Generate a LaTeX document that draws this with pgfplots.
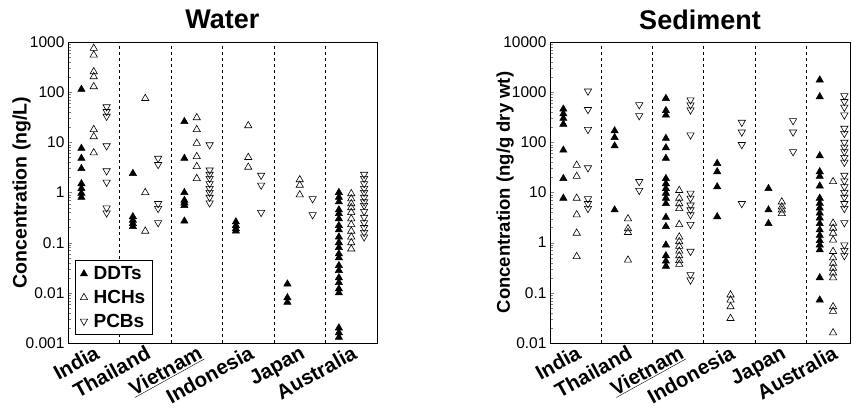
\documentclass[border=0pt]{standalone}
\usepackage{fontspec}
\setmainfont{Liberation Sans}
\usepackage{pgfplots}
\usepackage{pgfplotstable}
\pgfplotsset{compat=1.18}

% water (ng/L)
\pgfplotstableread{
c v
0 114
0 7.6
0 4.8
0 3.0
0 1.5
0 1.2
0 0.97
0 0.8
1 2.4
1 0.33
1 0.28
1 0.24
1 0.21
2 26
2 4.8
2 1.0
2 0.7
2 0.62
2 0.55
2 0.27
3 0.26
3 0.22
3 0.19
3 0.17
4 0.015
4 0.008
4 0.0065
5 1.0
5 0.8
5 0.65
5 0.45
5 0.38
5 0.3
5 0.22
5 0.18
5 0.13
5 0.1
5 0.08
5 0.06
5 0.05
5 0.035
5 0.028
5 0.02
5 0.016
5 0.012
5 0.01
5 0.002
5 0.0016
5 0.0013
}\wddt
\pgfplotstableread{
c v
0 750
0 550
0 256
0 204
0 129
0 18
0 13
0 6.2
1 75
1 1.0
1 0.17
2 31
2 18
2 9.6
2 5.2
2 3.3
2 1.9
3 21.5
3 5.0
3 3.2
4 1.8
4 1.4
4 0.9
5 0.95
5 0.75
5 0.6
5 0.5
5 0.4
5 0.3
5 0.23
5 0.17
5 0.13
5 0.1
5 0.075
}\whch
\pgfplotstableread{
c v
0 51
0 41
0 33
0 8.5
0 2.7
0 1.6
0 0.49
0 0.39
1 4.8
1 3.6
1 0.6
1 0.48
1 0.25
2 8.9
2 2.8
2 2.3
2 1.9
2 1.5
2 1.2
2 1.0
2 0.8
2 0.62
3 2.2
3 1.4
3 0.4
4 0.75
4 0.36
5 2.3
5 1.9
5 1.5
5 1.2
5 1.0
5 0.8
5 0.65
5 0.55
5 0.42
5 0.32
5 0.25
5 0.2
5 0.16
5 0.13
}\wpcb

% sediment (ng/g dry wt)
\pgfplotstableread{
c v
0 460
0 370
0 300
0 230
0 70
0 19
0 7.7
1 170
1 125
1 85
1 4.5
2 750
2 430
2 350
2 120
2 78
2 48
2 19
2 15
2 12
2 9.7
2 7.7
2 6
2 3.2
2 2.1
2 0.9
2 0.55
2 0.43
2 0.34
3 38
3 26
3 13
3 3.3
4 12
4 4.5
4 2.4
5 1750
5 810
5 54
5 26
5 21
5 13.5
5 7.7
5 6.1
5 4.9
5 3.9
5 3.1
5 2.4
5 1.8
5 1.4
5 1.1
5 0.9
5 0.72
5 0.2
5 0.072
}\sedddt
\pgfplotstableread{
c v
0 35
0 21
0 7.7
0 3.6
0 1.55
0 0.53
1 3.0
1 1.9
1 1.6
1 0.45
2 11
2 7.7
2 6
2 4.8
2 2.3
2 1.3
2 1.05
2 0.85
2 0.68
2 0.55
2 0.44
2 0.37
3 0.091
3 0.072
3 0.053
3 0.031
4 6.5
4 5.2
4 4.5
4 3.8
5 16.5
5 2.45
5 1.95
5 1.55
5 1.13
5 0.67
5 0.5
5 0.39
5 0.31
5 0.25
5 0.2
5 0.053
5 0.043
5 0.016
}\sedhch
\pgfplotstableread{
c v
0 1050
0 450
0 180
0 31
0 7.5
0 6
0 4.8
1 560
1 340
1 16.5
1 11
2 700
2 556
2 442
2 140
2 9.7
2 7.7
2 5.6
2 4.5
2 3.6
2 2.3
2 0.67
2 0.23
2 0.18
3 250
3 160
3 90
3 6
4 270
4 160
4 65
5 850
5 650
5 500
5 350
5 190
5 150
5 100
5 80
5 65
5 50
5 40
5 22
5 17
5 13
5 10
5 8
5 6
5 4.8
5 2.5
5 0.9
5 0.7
5 0.55
}\sedpcb

\pgfplotsset{
  /pgfplots/chartpanel/.style={
    scale only axis, height=301pt, anchor=south west,
    xmin=-0.5,
    log ticks with fixed point,
    yticklabel style={font=\fontsize{15.5}{15.5}\selectfont,
      /pgf/number format/1000 sep={},
      /pgf/number format/assume math mode=true},
    xtick={0,...,5},
    xticklabels={India,Thailand,\underline{Vietnam},Indonesia,Japan,Australia},
    xtick style={draw=none},
    xticklabel style={rotate=29, anchor=north east, inner sep=1pt,
      font=\fontsize{20.5}{20.5}\selectfont\bfseries},
    extra x ticks={0.5,1.5,2.5,3.5,4.5},
    extra x tick labels={},
    extra x tick style={grid=major, major grid style={black, dashed, line width=0.8pt}},
    ytick pos=left,
    axis line style={line width=0.8pt},
    ylabel style={font=\fontsize{18.5}{18.5}\selectfont\bfseries,
      at={(axis description cs:-0.15,0.5)}, anchor=center},
    title style={font=\fontsize{27}{27}\selectfont\bfseries,
      at={(axis description cs:0.5,1.055)}, anchor=center},
  },
  /pgfplots/markddt/.style={only marks, mark=triangle*, mark size=4.2pt, mark options={fill=black, draw=black, line width=0.5pt}},
  /pgfplots/markhch/.style={only marks, mark=triangle, mark size=4.2pt, mark options={draw=black, fill=white, line width=0.6pt}},
  /pgfplots/markpcb/.style={only marks, mark=triangle, mark size=4.2pt, mark options={draw=black, fill=white, rotate=180, line width=0.6pt}},
}

\begin{document}
\begin{tikzpicture}
\useasboundingbox (0,0) rectangle (853pt,409pt);

\begin{semilogyaxis}[chartpanel,
  at={(68pt,66pt)}, width=309pt, xmax=5.5,
  ymin=0.001, ymax=1000,
  title={Water},
  ylabel={Concentration (ng/L)},
  ylabel style={font=\fontsize{19.5}{19.5}\selectfont\bfseries},
  legend style={at={(0.023,0.027)}, anchor=south west, draw=black,
    font=\fontsize{19}{19}\selectfont\bfseries, inner xsep=5pt, inner ysep=4pt,
    row sep=5pt, column sep=4pt},
  legend cell align=left,
]
\addplot[markddt] table[x expr=\thisrow{c}-0.24, y=v] {\wddt};
\addplot[markhch] table[x expr=\thisrow{c}, y=v] {\whch};
\addplot[markpcb] table[x expr=\thisrow{c}+0.25, y=v] {\wpcb};
\legend{DDTs,HCHs,PCBs}
\end{semilogyaxis}

\begin{semilogyaxis}[chartpanel,
  at={(550pt,66pt)}, width=300pt, xmax=5.35,
  ymin=0.01, ymax=10000,
  title={Sediment},
  ylabel={Concentration (ng/g dry wt)},
]
\addplot[markddt] table[x expr=\thisrow{c}-0.24, y=v] {\sedddt};
\addplot[markhch] table[x expr=\thisrow{c}+0.02, y=v] {\sedhch};
\addplot[markpcb] table[x expr=\thisrow{c}+0.24, y=v] {\sedpcb};
\end{semilogyaxis}
\end{tikzpicture}
\end{document}
